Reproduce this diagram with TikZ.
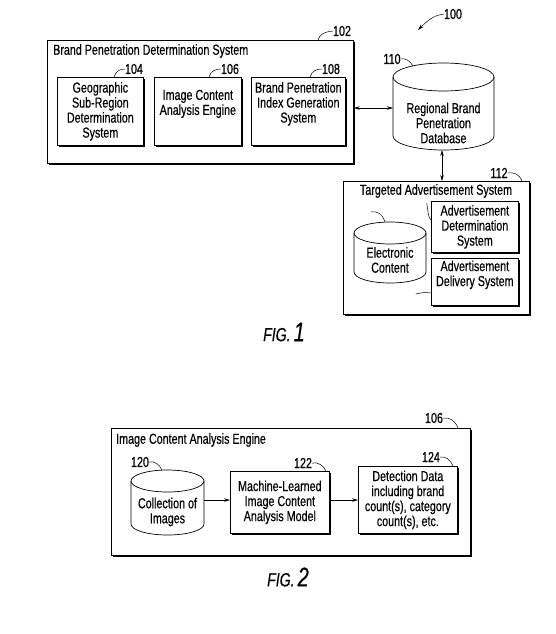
\documentclass[tikz,border=0pt]{standalone}
\usepackage{fontspec}
\setmainfont{Liberation Sans}[FakeStretch=0.74,FakeBold=0.4]
\usetikzlibrary{shadows,arrows.meta}
\newcommand\dfont{\fontsize{14.5}{15}\selectfont}
\begin{document}
\begin{tikzpicture}[x=1pt,y=-1pt,
  box/.style={draw, line width=0.7pt, fill=white,
    drop shadow={shadow xshift=1.3pt, shadow yshift=-1.3pt, fill=black, opacity=1},
    anchor=north west, inner sep=0pt, align=center, font=\dfont},
  lbl/.style={font=\dfont, inner sep=0pt, align=center},
  lead/.style={line width=0.5pt},
  conn/.style={line width=0.6pt, {Stealth[length=6pt,width=3.5pt]}-{Stealth[length=6pt,width=3.5pt]}},
  arr/.style={line width=0.6pt, -{Stealth[length=6pt,width=3.5pt]}},
  cyl/.style={line width=0.7pt}
]
\useasboundingbox (0,0) rectangle (555,634);

% ---------------- FIG. 1 ----------------
\node[box, minimum width=306, minimum height=123] (b102) at (47,40) {};
\node[lbl, anchor=west] (t102) at (53,51) {Brand Penetration Determination System};
\node[box, minimum width=86, minimum height=68] (b104) at (57,77) {Geographic\\Sub-Region\\Determination\\System};
\node[box, minimum width=87, minimum height=68] (b106) at (154,77) {Image Content\\Analysis Engine\\[3pt]};
\node[box, minimum width=94, minimum height=68] (b108) at (251,77) {Brand Penetration\\Index Generation\\System\\[3pt]};

% labels fig 1
\node[lbl] (l100) at (453,14) {100};
\node[lbl] (l102) at (342,31) {102};
\node[lbl] (l104) at (134,69) {104};
\node[lbl] (l106) at (230,69) {106};
\node[lbl] (l108) at (331,69) {108};
\node[lbl] (l110) at (392,59) {110};
\node[lbl] (l112) at (499,173) {112};
\node[lbl] (l114) at (362,212) {114};
\node[lbl] (l116) at (418,203) {116};
\node[lbl] (l118) at (407,294) {118};

\draw[lead, -{Stealth[length=6pt,width=3.5pt]}] (l100.west) .. controls (436,15) and (430,18) .. (418,30);
\draw[lead] (318,40) .. controls (320,34) and (324,32) .. (l102.west);
\draw[lead] (114,77) .. controls (116,71) and (120,69) .. (l104.west);
\draw[lead] (209,77) .. controls (211,71) and (215,69) .. (l106.west);
\draw[lead] (310,77) .. controls (312,71) and (316,69) .. (l108.west);

% cylinder 110
\draw[cyl] (443.5,77) ellipse [x radius=50.5, y radius=14];
\draw[cyl] (393,77) -- (393,136) .. controls (393,143.7) and (415.6,150) .. (443.5,150)
  .. controls (471.4,150) and (494,143.7) .. (494,136) -- (494,77);
\node[lbl] (c110) at (443.5,123) {Regional Brand\\Penetration\\Database};
\draw[lead] (l110.east) .. controls (406,58) and (410,61) .. (413,66);
\coordinate (c110w) at (393,108);
\coordinate (c110s) at (442,150);
\draw[conn] (b102.east |- c110w) -- (c110w);

% box 112
\node[box, minimum width=186, minimum height=133] (b112) at (343,181) {};
\node[lbl] (t112) at (436,191) {Targeted Advertisement System};
\draw[conn] (c110s) -- (c110s |- b112.north);
\draw[lead] (l112.east) .. controls (514,172) and (519,174) .. (522,181);

% cylinder 114
\draw[cyl] (390,233) ellipse [x radius=36, y radius=11];
\draw[cyl] (354,233) -- (354,272) .. controls (354,278.1) and (370.1,283) .. (390,283)
  .. controls (409.9,283) and (426,278.1) .. (426,272) -- (426,233);
\node[lbl] (c114) at (390,260) {Electronic\\Content};
\draw[lead] (l114.east) .. controls (377,211) and (382,213) .. (385,222);

\node[box, minimum width=87, minimum height=51] (b116) at (431,201) {Advertisement\\Determination\\System};
\node[box, minimum width=87, minimum height=47] (b118) at (431,258) {Advertisement\\Delivery System\\[2pt]};
\draw[lead] (l116.east) .. controls (428,210) and (428,218) .. (431,220);
\draw[lead] (l118.east) .. controls (420,293) and (424,292) .. (431,293);

\node (fig1) at (284,332) {\fontsize{19}{19}\selectfont\itshape FIG.\,{\fontsize{27}{27}\selectfont 1}};

% ---------------- FIG. 2 ----------------
\node[box, minimum width=359, minimum height=127] (b106b) at (111,428) {};
\node[lbl, anchor=west] (t106b) at (116,440) {Image Content Analysis Engine};
\node[lbl] (l106b) at (434,418) {106};
\draw[lead] (l106b.east) .. controls (449,417) and (455,420) .. (458,428);

% cylinder 120
\draw[cyl] (167.5,481) ellipse [x radius=36.5, y radius=11];
\draw[cyl] (131,481) -- (131,524) .. controls (131,530.1) and (147.3,535) .. (167.5,535)
  .. controls (187.7,535) and (204,530.1) .. (204,524) -- (204,481);
\node[lbl] (c120) at (167.5,512) {Collection of\\Images};
\node[lbl] (l120) at (140,462) {120};
\draw[lead] (l120.east) .. controls (155,461) and (159,464) .. (162,470);

\node[box, minimum width=99, minimum height=62] (b122) at (230,471) {Machine-Learned\\Image Content\\Analysis Model};
\node[box, minimum width=99, minimum height=67] (b124) at (358,466) {Detection Data\\including brand\\count(s), category\\count(s), etc.};
\node[lbl] (l122) at (303,463) {122};
\node[lbl] (l124) at (431,457) {124};
\draw[lead] (l122.east) .. controls (318,462) and (323,465) .. (326,471);
\draw[lead] (l124.east) .. controls (445,456) and (450,459) .. (453,466);

\coordinate (c120e) at (204,500);
\draw[arr] (c120e) -- (c120e -| b122.west);
\draw[arr] (b122.east |- c120e) -- (b124.west |- c120e);

\node (fig2) at (288,577) {\fontsize{19}{19}\selectfont\itshape FIG.\,{\fontsize{27}{27}\selectfont 2}};
\end{tikzpicture}
\end{document}
